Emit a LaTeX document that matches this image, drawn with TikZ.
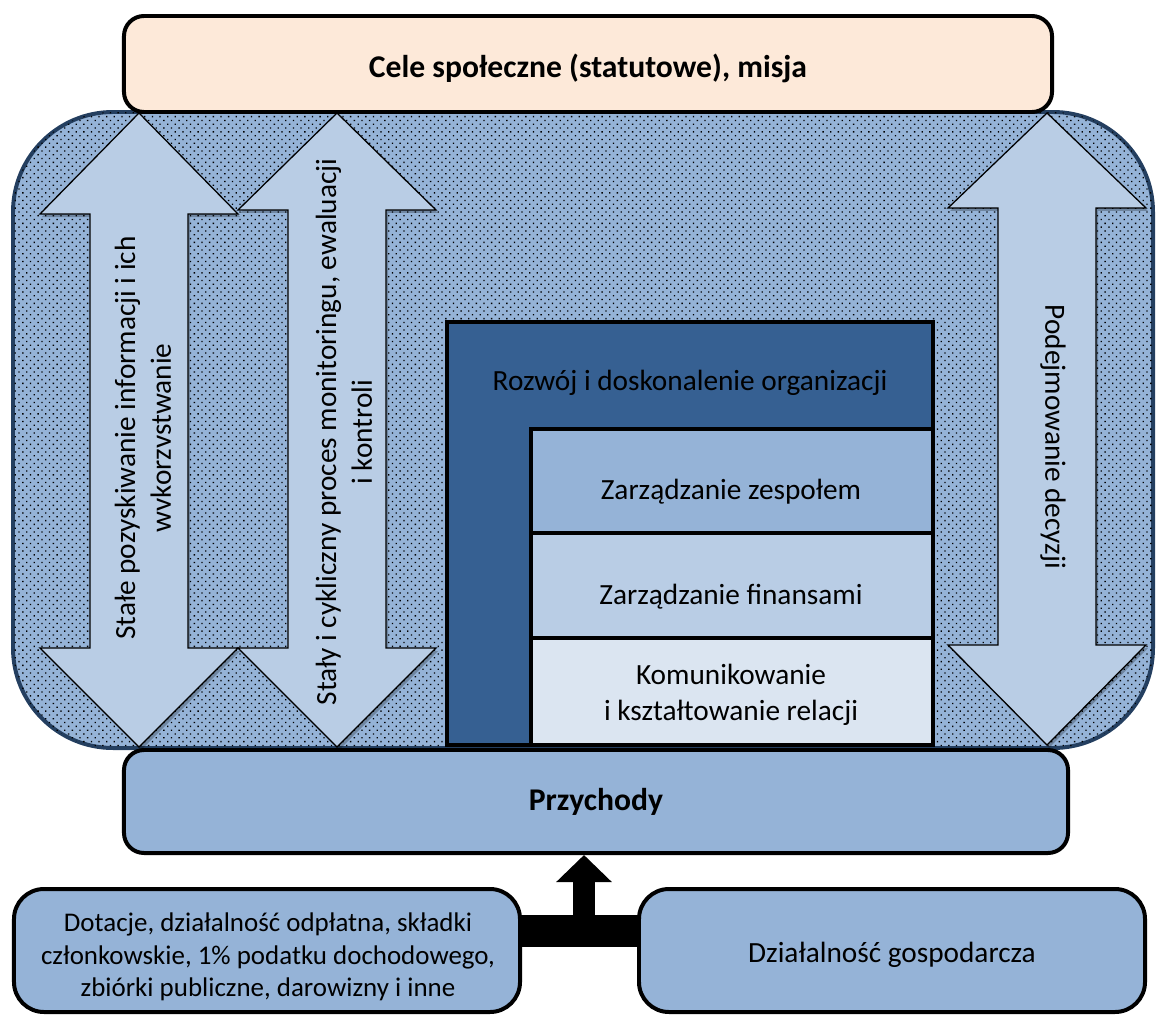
\documentclass[tikz,border=0pt]{standalone}
\usepackage{fontspec}
\setmainfont{Carlito}
\usetikzlibrary{patterns.meta,arrows.meta}
\definecolor{peach}{HTML}{FDE9D9}
\definecolor{midblue}{HTML}{95B3D7}
\definecolor{lightblue}{HTML}{B9CDE5}
\definecolor{paleblue}{HTML}{DBE5F1}
\definecolor{darkblue}{HTML}{366092}
\definecolor{bordblue}{HTML}{243F60}
\newcommand\myDblArrow[5]{(#1,#2) -- (#1+99,#3) -- (#1+49,#3) -- (#1+49,#4) -- (#1+99,#4) -- (#1,#5) -- (#1-99,#4) -- (#1-49,#4) -- (#1-49,#3) -- (#1-99,#3) -- cycle}
\begin{document}
\begin{tikzpicture}[x=0.03cm,y=-0.03cm,
  thickbox/.style={draw=black, line width=3.4pt, rounded corners=0.6cm, inner sep=0pt},
  dblarrow/.style={fill=lightblue, draw=black, line width=1.1pt, line join=miter},
  arrowshadow/.style={fill=black, opacity=0.25, shift={(2,3)}},
  lbl/.style={font=\fontsize{25}{30.5}\selectfont, align=center, text=black, inner sep=0pt},
  slbl/.style={font=\fontsize{23}{27.8}\selectfont, align=center, text=black, inner sep=0pt},
  blbl/.style={font=\fontsize{27}{32}\selectfont\bfseries, align=center, text=black, inner sep=0pt},
  blockedge/.style={draw=black, line width=3.4pt},
]
\useasboundingbox (0,0) rectangle (1157,1016);

% background panel
\path[fill=midblue, draw=bordblue, line width=3.4pt, rounded corners=3cm] (13,112) rectangle (1153,748);
\fill[pattern={Dots[angle=45,distance=4.6pt,radius=0.8pt]}, pattern color=black, rounded corners=3cm] (13,112) rectangle (1153,748);

% double arrows
\fill[arrowshadow] \myDblArrow{139}{113}{214}{648}{747};
\fill[arrowshadow] \myDblArrow{337}{113}{210}{648}{747};
\fill[arrowshadow] \myDblArrow{1047}{113}{208}{645}{745};
\draw[dblarrow] \myDblArrow{139}{113}{214}{648}{747};
\draw[dblarrow] \myDblArrow{337}{113}{210}{648}{747};
\draw[dblarrow] \myDblArrow{1047}{113}{208}{645}{745};

\node[lbl, rotate=90] (t1) at (143,438) {Stałe pozyskiwanie informacji i ich\\wvkorzvstwanie};
\node[lbl, rotate=90] (t2) at (344,432) {Stały i cykliczny proces monitoringu, ewaluacji\\i kontroli};
\node[lbl, rotate=-90] (t3) at (1053,437) {Podejmowanie decyzji};

% central block
\path[blockedge, fill=darkblue] (447,322) rectangle (933,745);
\path[blockedge, fill=midblue] (531,429) rectangle (933,533);
\path[blockedge, fill=lightblue] (531,533) rectangle (933,638);
\path[blockedge, fill=paleblue] (531,638) rectangle (933,745);
\node[lbl] (rozwoj) at (690,383) {Rozwój i doskonalenie organizacji};
\node[lbl] (zesp) at (731,492) {Zarządzanie zespołem};
\node[lbl] (fin) at (731,597) {Zarządzanie finansami};
\node[lbl] (kom) at (731,695) {Komunikowanie\\i kształtowanie relacji};

% top and revenue boxes
\node[thickbox, fill=peach, minimum width=27.84cm, minimum height=2.88cm] (cele) at (588,64) {};
\node[blbl] (celetxt) at (588,68) {Cele społeczne (statutowe), misja};
\node[thickbox, fill=midblue, minimum width=28.32cm, minimum height=3.09cm] (prz) at (596,801.5) {};
\node[blbl] (prztxt) at (596,802) {Przychody};

% source boxes
\node[thickbox, rounded corners=0.9cm, fill=midblue, minimum width=15.18cm, minimum height=3.69cm] (src) at (267,950.5) {};
\node[slbl] (srctxt) at (268,957) {Dotacje, działalność odpłatna, składki\\członkowskie, 1\% podatku dochodowego,\\zbiórki publiczne, darowizny i inne};
\node[thickbox, rounded corners=0.9cm, fill=midblue, minimum width=15.18cm, minimum height=3.69cm] (gosp) at (892,950.5) {};
\node[lbl] (gosptxt) at (892,955) {Działalność gospodarcza};

% connector
\coordinate (barY) at (0,931);
\coordinate (stemBase) at (584,931);
\draw[line width=0.96cm] (src.east |- barY) -- (gosp.west |- barY);
\draw[line width=0.66cm, -{Triangle[width=1.62cm,length=0.81cm]}] (stemBase) -- (stemBase |- prz.south);
\end{tikzpicture}
\end{document}
